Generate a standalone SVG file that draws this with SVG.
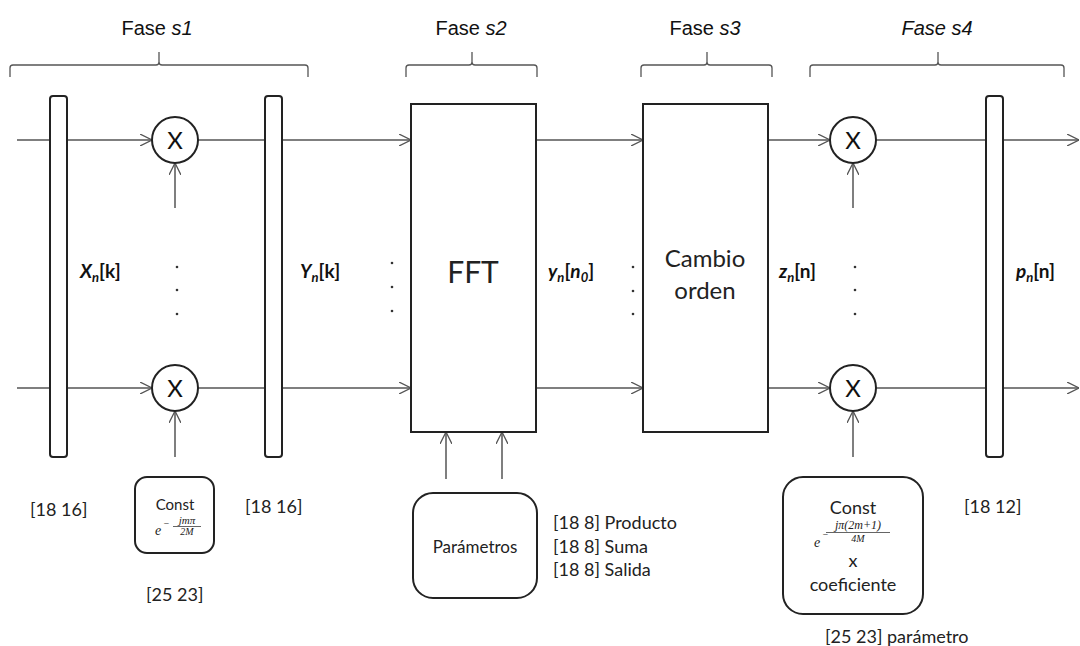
<svg xmlns="http://www.w3.org/2000/svg" width="1080" height="646" viewBox="0 0 1080 646">
<style>
.ln{stroke:#555;stroke-width:1.5;fill:none}
.bar{fill:#fff;stroke:#222;stroke-width:2}
.box{fill:#fff;stroke:#222;stroke-width:2}
.br{stroke:#555;stroke-width:1.3;fill:none}
.t{font-family:'Liberation Sans',Arial,sans-serif;fill:#111}
.c{font-family:Lato,'Open Sans',sans-serif;fill:#222}
.x{font-family:Lato,'Open Sans',sans-serif;fill:#111;font-size:24px;text-anchor:middle}
.m{font-family:'Liberation Serif','DejaVu Serif',serif;font-style:italic;fill:#222}
.lab{font-family:Lato,'Open Sans',sans-serif;font-weight:bold;font-size:19px;fill:#111}
.dot{fill:#333}
</style>
<defs>
<marker id="ah" viewBox="0 0 12 12" refX="12" refY="6" markerWidth="12" markerHeight="12" markerUnits="userSpaceOnUse" orient="auto">
<path d="M0,0 L12,6 L0,12" fill="none" stroke="#555" stroke-width="1.3"/>
</marker>
</defs>
<rect width="1080" height="646" fill="#fff"/>

<g id="phases">
<g id="fase1">
<text class="t" x="157" y="35" font-size="20" text-anchor="middle">Fase <tspan font-style="italic">s1</tspan></text>
<path class="br" d="M10,77 V68 Q10,65 13,65 H156 Q159,65 159,62 V52 M159,62 Q159,65 162,65 H305 Q308,65 308,68 V77"/>
</g>
<g id="fase2">
<text class="t" x="471" y="35" font-size="20" text-anchor="middle">Fase <tspan font-style="italic">s2</tspan></text>
<path class="br" d="M406,77 V68 Q406,65 409,65 H469 Q472,65 472,62 V52 M472,62 Q472,65 475,65 H534 Q537,65 537,68 V77"/>
</g>
<g id="fase3">
<text class="t" x="705" y="35" font-size="20" text-anchor="middle">Fase <tspan font-style="italic">s3</tspan></text>
<path class="br" d="M641,77 V68 Q641,65 644,65 H704 Q707,65 707,62 V52 M707,62 Q707,65 710,65 H769 Q772,65 772,68 V77"/>
</g>
<g id="fase4">
<text class="t" x="937" y="35" font-size="20" text-anchor="middle" font-style="italic">Fase s4</text>
<path class="br" d="M810,77 V68 Q810,65 813,65 H935 Q938,65 938,62 V52 M938,62 Q938,65 941,65 H1061 Q1064,65 1064,68 V77"/>
</g>
</g>

<g id="connectors">
<path class="ln" d="M17,140 H152" marker-end="url(#ah)"/>
<path class="ln" d="M17,388 H152" marker-end="url(#ah)"/>
<path class="ln" d="M198,140 H411" marker-end="url(#ah)"/>
<path class="ln" d="M198,388 H411" marker-end="url(#ah)"/>
<path class="ln" d="M536,140 H643" marker-end="url(#ah)"/>
<path class="ln" d="M536,388 H643" marker-end="url(#ah)"/>
<path class="ln" d="M764,140 H830" marker-end="url(#ah)"/>
<path class="ln" d="M764,388 H830" marker-end="url(#ah)"/>
<path class="ln" d="M876,140 H1079" marker-end="url(#ah)"/>
<path class="ln" d="M876,388 H1079" marker-end="url(#ah)"/>
<path class="ln" d="M175,208 V163" marker-end="url(#ah)"/>
<path class="ln" d="M175,457 V411" marker-end="url(#ah)"/>
<path class="ln" d="M853,208 V163" marker-end="url(#ah)"/>
<path class="ln" d="M853,457 V411" marker-end="url(#ah)"/>
<path class="ln" d="M446,479 V432" marker-end="url(#ah)"/>
<path class="ln" d="M502,479 V432" marker-end="url(#ah)"/>
</g>

<g id="reg1">
<rect class="bar" x="50" y="96" width="17" height="361" rx="3"/>
<text class="lab" x="80" y="278"><tspan font-style="italic">X</tspan><tspan font-style="italic" font-size="13" dy="4">n</tspan><tspan dy="-4">[k]</tspan></text>
</g>
<g id="mult1a">
<circle class="box" cx="175" cy="140" r="23"/>
<text class="x" x="175" y="149">X</text>
</g>
<g id="mult1b">
<circle class="box" cx="175" cy="388" r="23"/>
<text class="x" x="175" y="397">X</text>
</g>
<g id="dots1">
<circle class="dot" cx="177" cy="267" r="1.3"/><circle class="dot" cx="177" cy="290" r="1.3"/><circle class="dot" cx="177" cy="314" r="1.3"/>
</g>
<g id="reg2">
<rect class="bar" x="265" y="96" width="17" height="361" rx="3"/>
<text class="lab" x="300" y="278"><tspan font-style="italic">Y</tspan><tspan font-style="italic" font-size="13" dy="4">n</tspan><tspan dy="-4">[k]</tspan></text>
</g>
<g id="dots2">
<circle class="dot" cx="392" cy="263" r="1.3"/><circle class="dot" cx="392" cy="287" r="1.3"/><circle class="dot" cx="392" cy="311" r="1.3"/>
</g>
<g id="fft">
<rect class="box" x="411" y="104" width="125" height="328"/>
<text class="c" x="473" y="283" font-size="30" text-anchor="middle">FFT</text>
</g>
<g id="outfft">
<text class="lab" x="548" y="278"><tspan font-style="italic">y</tspan><tspan font-style="italic" font-size="13" dy="4">n</tspan><tspan dy="-4">[</tspan><tspan font-style="italic">n</tspan><tspan font-style="italic" font-size="13" dy="4">0</tspan><tspan dy="-4">]</tspan></text>
</g>
<g id="dots3">
<circle class="dot" cx="633" cy="267" r="1.3"/><circle class="dot" cx="633" cy="291" r="1.3"/><circle class="dot" cx="633" cy="314" r="1.3"/>
</g>
<g id="cambio">
<rect class="box" x="643" y="104" width="125" height="328"/>
<text class="c" x="705" y="267" font-size="24" text-anchor="middle">Cambio</text>
<text class="c" x="705" y="299" font-size="24" text-anchor="middle">orden</text>
</g>
<g id="outcambio">
<text class="lab" x="779" y="278"><tspan font-style="italic">z</tspan><tspan font-style="italic" font-size="13" dy="4">n</tspan><tspan dy="-4">[n]</tspan></text>
</g>
<g id="mult4a">
<circle class="box" cx="853" cy="140" r="23"/>
<text class="x" x="853" y="149">X</text>
</g>
<g id="mult4b">
<circle class="box" cx="853" cy="388" r="23"/>
<text class="x" x="853" y="397">X</text>
</g>
<g id="dots4">
<circle class="dot" cx="855" cy="267" r="1.3"/><circle class="dot" cx="855" cy="290" r="1.3"/><circle class="dot" cx="855" cy="314" r="1.3"/>
</g>
<g id="reg4">
<rect class="bar" x="986" y="96" width="17" height="361" rx="3"/>
<text class="lab" x="1016" y="278"><tspan font-style="italic">p</tspan><tspan font-style="italic" font-size="13" dy="4">n</tspan><tspan dy="-4">[n]</tspan></text>
</g>

<g id="const1">
<rect class="box" x="135" y="477" width="79" height="76" rx="12"/>
<text class="c" x="175" y="510" font-size="15" text-anchor="middle">Const</text>
<text class="m" x="155" y="535" font-size="14">e</text>
<text class="m" x="163" y="527" font-size="10">−</text>
<text class="m" x="187" y="524" font-size="11" text-anchor="middle">jmπ</text>
<line x1="173" y1="526.5" x2="201" y2="526.5" stroke="#222" stroke-width="0.7"/>
<text class="m" x="187" y="535" font-size="10" text-anchor="middle">2M</text>
</g>
<g id="params">
<rect class="box" x="413" y="493" width="124" height="105" rx="20"/>
<text class="c" x="475" y="553" font-size="17" text-anchor="middle">Parámetros</text>
</g>
<g id="const4">
<rect class="box" x="783" y="477" width="140" height="137" rx="20"/>
<text class="c" x="853" y="514" font-size="18" text-anchor="middle">Const</text>
<text class="m" x="814" y="547" font-size="14">e</text>
<text class="m" x="822" y="538" font-size="10">−</text>
<text class="m" x="858" y="529" font-size="12" text-anchor="middle">jπ(2m+1)</text>
<line x1="826" y1="532.5" x2="890" y2="532.5" stroke="#222" stroke-width="0.7"/>
<text class="m" x="858" y="542" font-size="10" text-anchor="middle">4M</text>
<text class="c" x="853" y="567" font-size="18" text-anchor="middle">x</text>
<text class="c" x="853" y="591" font-size="18" text-anchor="middle">coeficiente</text>
</g>

<g id="annotations">
<text class="c" x="30" y="516" font-size="18">[18 16]</text>
<text class="c" x="245" y="513" font-size="18">[18 16]</text>
<text class="c" x="146" y="601" font-size="18">[25 23]</text>
<text class="c" x="553" y="529" font-size="18">[18 8] Producto</text>
<text class="c" x="553" y="553" font-size="18">[18 8] Suma</text>
<text class="c" x="553" y="576" font-size="18">[18 8] Salida</text>
<text class="c" x="964" y="513" font-size="18">[18 12]</text>
<text class="c" x="825" y="643" font-size="18">[25 23] parámetro</text>
</g>
</svg>
